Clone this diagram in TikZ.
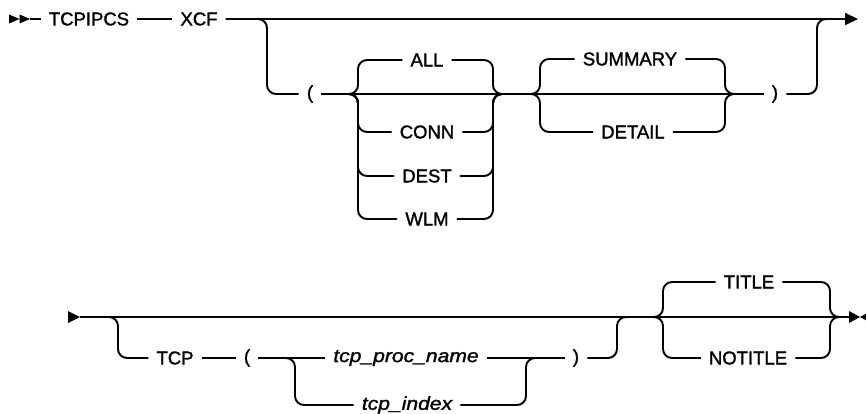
\documentclass[tikz,border=0pt]{standalone}
\usepackage{fontspec}
\setmainfont[FakeBold=1.5]{Liberation Sans}
\newfontfamily\varfont[FakeBold=1.5,FakeStretch=1.14]{Liberation Sans}
\usetikzlibrary{arrows.meta}

\tikzset{
  kw/.style={inner xsep=8pt, inner ysep=2pt, font=\fontsize{18.5}{20}\selectfont},
  var/.style={kw, font=\varfont\fontsize{18.5}{20}\selectfont\itshape},
  rail/.style={line width=1.9pt},
  railbend/.style={rail, rounded corners=9pt},
}

\begin{document}
\begin{tikzpicture}[x=1pt,y=-1pt]
  \useasboundingbox (0,0) rectangle (866,414);

  % TCPIPCS XCF
  \fill (9,14.5) -- (19.5,19) -- (9,23.5) -- cycle;
  \fill (19.5,14.5) -- (30,19) -- (19.5,23.5) -- cycle;
  \coordinate (s1) at (30,19);
  \node[kw] (tcpipcs) at (89,19) {TCPIPCS};
  \node[kw] (xcf) at (199,19) {XCF};
  \coordinate (b1) at (267,19); \coordinate (b2) at (817,19);
  \coordinate (b2e) at (834,19); \coordinate (e1) at (858,19);
  \draw[rail] (s1) -- (tcpipcs); \draw[rail] (tcpipcs) -- (xcf);
  \draw[rail,-{Triangle[length=13pt,width=12pt]}] (xcf) -- (e1);

  % ( ALL|CONN|DEST|WLM  SUMMARY|DETAIL )
  \node[kw] (lp1) at (310,94) {(};
  \node[kw] (rp1) at (775,94) {)};
  \node[kw] (all) at (427,60) {ALL};
  \node[kw] (conn) at (427,132) {CONN};
  \node[kw] (dest) at (427,176) {DEST};
  \node[kw] (wlm) at (427,219) {WLM};
  \node[kw] (summary) at (630,59) {SUMMARY};
  \node[kw] (detail) at (633,132) {DETAIL};
  \coordinate (g1l) at (358,94); \coordinate (g1r) at (493,94);
  \coordinate (g2l) at (540,94); \coordinate (g2r) at (725,94);
  \draw[railbend] (xcf.east) -| (b1 |- lp1) -- (lp1);
  \draw[rail] (lp1) -- (rp1);
  \draw[railbend] (lp1.east) -| (g1l |- all) -- (all);
  \draw[railbend] (lp1.east) -| (g1l |- conn) -- (conn);
  \draw[railbend] (lp1.east) -| (g1l |- dest) -- (dest);
  \draw[railbend] (lp1.east) -| (g1l |- wlm) -- (wlm);
  \draw[railbend] (all.east) -| (g1r) -- (g2l);
  \draw[railbend] (conn.east) -| (g1r) -- (g2l);
  \draw[railbend] (dest.east) -| (g1r) -- (g2l);
  \draw[railbend] (wlm.east) -| (g1r) -- (g2l);
  \draw[railbend] (g1r) -| (g2l |- summary) -- (summary);
  \draw[railbend] (g1r) -| (g2l |- detail) -- (detail);
  \draw[railbend] (summary.east) -| (g2r) -- (rp1);
  \draw[railbend] (detail.east) -| (g2r) -- (rp1);
  \draw[railbend] (rp1.east) -| (b2) -- (b2e);

  % TCP ( tcp_proc_name|tcp_index )  TITLE|NOTITLE
  \fill (68,311) -- (80,317) -- (68,323) -- cycle;
  \coordinate (s2) at (80,317);
  \coordinate (b3) at (118,317); \coordinate (b4) at (617,317);
  \coordinate (e2) at (849,317);
  \node[kw] (tcp) at (175,358) {TCP};
  \node[kw] (lp2) at (247,358) {(};
  \node[var] (procname) at (406,358) {tcp\_proc\_name};
  \node[var] (tcpindex) at (407,405) {tcp\_index};
  \node[kw] (rp2) at (576,358) {)};
  \node[kw] (title) at (749,282) {TITLE};
  \node[kw] (notitle) at (748,358) {NOTITLE};
  \coordinate (g3l) at (295,358); \coordinate (g3r) at (526,358);
  \coordinate (g4l) at (663,317); \coordinate (g4r) at (830,317);
  \draw[rail] (s2) -- (e2);
  \draw[railbend] (s2) -| (b3 |- tcp) -- (tcp);
  \draw[rail] (tcp) -- (lp2); \draw[rail] (lp2) -- (procname);
  \draw[railbend] (lp2.east) -| (g3l |- tcpindex) -- (tcpindex);
  \draw[rail] (procname) -- (rp2);
  \draw[railbend] (tcpindex.east) -| (g3r) -- (rp2);
  \draw[railbend] (rp2.east) -| (b4) -- (g4l);
  \draw[railbend] (b4) -| (g4l |- title) -- (title);
  \draw[railbend] (b4) -| (g4l |- notitle) -- (notitle);
  \draw[railbend] (title.east) -| (g4r) -- (e2);
  \draw[railbend] (notitle.east) -| (g4r) -- (e2);
  \fill (849,311) -- (860,317) -- (849,323) -- cycle;
  \fill (871,311) -- (860,317) -- (871,323) -- cycle;
\end{tikzpicture}
\end{document}
